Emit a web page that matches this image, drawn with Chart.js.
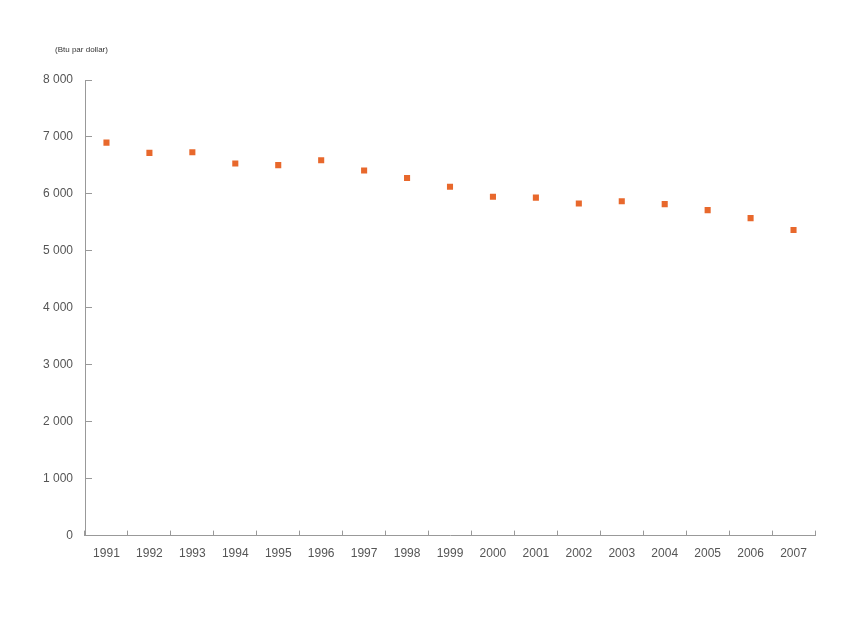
<!DOCTYPE html>
<html>
<head>
<meta charset="utf-8">
<script src="https://cdn.jsdelivr.net/npm/chart.js@4/dist/chart.umd.min.js"></script>
<style>
  body { margin: 0; background: #fff; }
  #wrap { width: 850px; height: 638px; }
</style>
</head>
<body>
<div id="wrap"><canvas id="myChart" width="850" height="638"></canvas></div>
<script>
// annees et intensite energetique (Btu par dollar)
const years = ["1991", "1992", "1993", "1994", "1995", "1996", "1997", "1998", "1999",
  "2000", "2001", "2002", "2003", "2004", "2005", "2006", "2007"];
const intensity = [6900, 6720, 6730, 6535, 6505, 6590, 6410, 6280, 6125,
  5950, 5935, 5830, 5870, 5820, 5715, 5575, 5365];
const yTicks = [0, 1000, 2000, 3000, 4000, 5000, 6000, 7000, 8000];
const unitLabel = "(Btu par dollar)";

// separateur des milliers avec espace
const fmt = function (v) {
  return String(v).replace(/\B(?=(\d{3})+(?!\d))/g, " ");
};

// petit label en haut a gauche
const unitPlugin = {
  id: "unitLabel",
  afterDraw(chart) {
    const ctx = chart.ctx;
    const y = chart.scales.y;
    ctx.save();
    ctx.font = "8px 'Liberation Sans', Arial, sans-serif";
    ctx.fillStyle = "#333";
    ctx.textBaseline = "middle";
    ctx.fillText(unitLabel, y.left + 13, chart.chartArea.top - 30);
    ctx.restore();
  }
};

const ctx = document.getElementById("myChart");
new Chart(ctx, {
  type: "line",
  data: {
    labels: years,
    datasets: [{
      data: intensity,
      showLine: false,
      pointStyle: "rect",
      pointRadius: 4.3,
      pointBorderWidth: 0,
      pointBackgroundColor: "#e8682c",
      pointBorderColor: "#e8682c"
    }]
  },
  options: {
    responsive: false,
    animation: false,
    layout: { padding: { left: 42, right: 35, top: 80, bottom: 61 } },
    plugins: {
      legend: { display: false },
      tooltip: { enabled: false }
    },
    scales: {
      x: {
        offset: true,
        grid: {
          offset: true,
          drawOnChartArea: false,
          drawTicks: true,
          tickLength: -5,
          color: "#999"
        },
        border: { color: "#999", width: 1 },
        ticks: {
          padding: 16,
          color: "#555",
          font: { family: "'Liberation Sans', Arial, sans-serif", size: 12 },
          maxRotation: 0,
          autoSkip: false
        }
      },
      y: {
        min: 0,
        max: 8000,
        afterBuildTicks: function (scale) {
          scale.ticks = yTicks.map(v => ({ value: v }));
        },
        afterFit: function (scale) {
          scale.width = 43;
        },
        grid: {
          drawOnChartArea: false,
          drawTicks: true,
          tickLength: -7,
          color: "#999"
        },
        border: { color: "#999", width: 1 },
        ticks: {
          padding: 19,
          color: "#555",
          font: { family: "'Liberation Sans', Arial, sans-serif", size: 12 },
          callback: function (v) { return fmt(v); }
        }
      }
    }
  },
  plugins: [unitPlugin]
});
</script>
</body>
</html>
